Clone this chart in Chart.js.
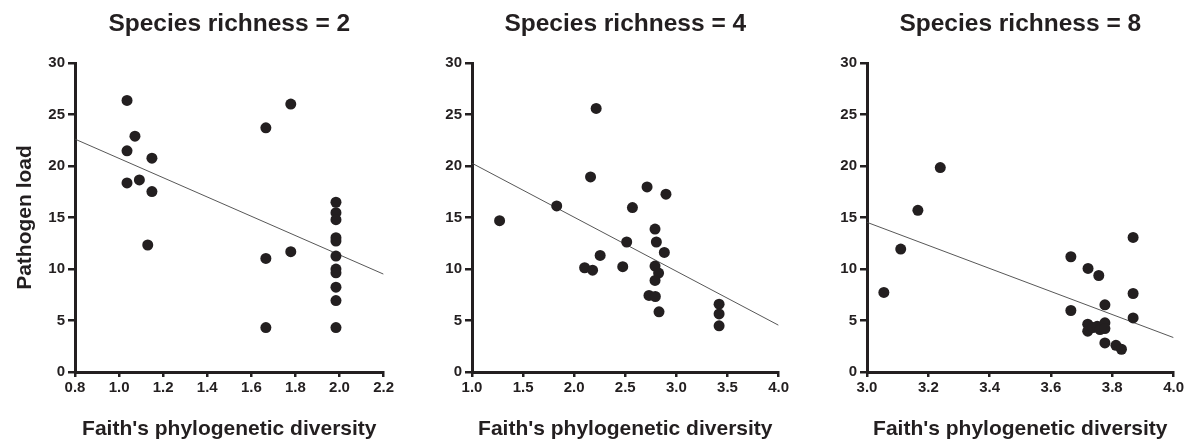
<!DOCTYPE html>
<html>
<head>
<meta charset="utf-8">
<script src="https://cdn.jsdelivr.net/npm/chart.js@4/dist/chart.umd.min.js"></script>
<style>
  html, body { margin: 0; padding: 0; background: #ffffff; }
  body { width: 1186px; height: 439px; position: relative; overflow: hidden; }
  canvas { position: absolute; top: 0; }
</style>
</head>
<body>
<canvas id="c1" width="396" height="439" style="left:0px"></canvas>
<canvas id="c2" width="394" height="439" style="left:397px"></canvas>
<canvas id="c3" width="394" height="439" style="left:792px"></canvas>
<script>
// ---------- data ----------
const panelTitles = ["Species richness = 2", "Species richness = 4", "Species richness = 8"];
const xAxisTitle = "Faith's phylogenetic diversity";
const yAxisTitle = "Pathogen load";
const yTicks = [0, 5, 10, 15, 20, 25, 30];

const xTicks1 = [0.8, 1.0, 1.2, 1.4, 1.6, 1.8, 2.0, 2.2];
const xTicks2 = [1.0, 1.5, 2.0, 2.5, 3.0, 3.5, 4.0];
const xTicks3 = [3.0, 3.2, 3.4, 3.6, 3.8, 4.0];

// Species richness = 2
const pd2 = [1.036, 1.072, 1.036, 1.149, 1.036, 1.092, 1.149, 1.130,
             1.666, 1.779, 1.666, 1.779, 1.666,
             1.984, 1.984, 1.984, 1.984, 1.984, 1.984, 1.984, 1.984, 1.984, 1.984, 1.984];
const load2 = [26.37, 22.9, 21.47, 20.76, 18.36, 18.65, 17.52, 12.33,
               23.71, 26.01, 11.03, 11.68, 4.31,
               16.48, 15.47, 14.79, 13.04, 12.71, 11.26, 9.99, 9.63, 8.24, 6.94, 4.31];
const fit2x = [0.8, 2.2];
const fit2y = [22.61, 9.5];

// Species richness = 4
const pd4 = [1.27, 1.829, 2.215, 2.160, 2.102, 2.180, 2.254, 2.475, 2.514, 2.570,
             2.713, 2.898, 2.791, 2.804, 2.882, 2.791, 2.826, 2.791, 2.732, 2.794,
             2.830, 3.418, 3.418, 3.418];
const load4 = [14.69, 16.12, 25.59, 18.94, 10.12, 9.89, 11.32, 10.22, 12.62, 15.96,
               17.97, 17.26, 13.88, 12.62, 11.61, 10.28, 9.60, 8.89, 7.43, 7.33,
               5.84, 6.58, 5.64, 4.48];
const fit4x = [1.0, 4.0];
const fit4y = [20.27, 4.54];

// Species richness = 8
const pd8 = [3.055, 3.110, 3.166, 3.239, 3.665, 3.665, 3.721, 3.756, 3.776,
             3.868, 3.868, 3.868,
             3.720, 3.720, 3.737, 3.751, 3.760, 3.776, 3.776,
             3.776, 3.812, 3.830];
const load8 = [7.72, 11.94, 15.70, 19.85, 11.19, 5.97, 10.06, 9.37, 6.52,
               13.07, 7.62, 5.25,
               4.64, 3.96, 4.31, 4.44, 4.12, 4.77, 4.22,
               2.82, 2.59, 2.21];
const fit8x = [3.0, 4.0];
const fit8y = [14.53, 3.34];

// ---------- drawing ----------
const INK = '#231f20';
const FONT = "'Liberation Sans', Arial, Helvetica, sans-serif";

function pairs(xs, ys) { return xs.map((x, i) => ({ x: x, y: ys[i] })); }

// panel title centred over the plot area (not the whole canvas)
const panelTitlePlugin = {
  id: 'panelTitle',
  afterDraw(chart, args, opts) {
    const { ctx, chartArea } = chart;
    ctx.save();
    ctx.fillStyle = INK;
    ctx.font = 'bold ' + opts.size + 'px ' + FONT;
    ctx.textAlign = 'center';
    ctx.textBaseline = 'alphabetic';
    ctx.fillText(opts.text, (chartArea.left + chartArea.right) / 2, opts.baseline);
    ctx.restore();
  }
};

function makePanel(id, title, xs, ys, fx, fy, xTicks, showYTitle) {
  const ctx = document.getElementById(id);
  return new Chart(ctx, {
    type: 'scatter',
    data: {
      datasets: [
        {
          data: pairs(xs, ys),
          backgroundColor: INK,
          borderColor: INK,
          borderWidth: 0,
          pointRadius: 5.5,
          pointHoverRadius: 5.5
        },
        {
          data: pairs(fx, fy),
          showLine: true,
          borderColor: '#444444',
          borderWidth: 0.9,
          pointRadius: 0,
          fill: false
        }
      ]
    },
    plugins: [panelTitlePlugin],
    options: {
      responsive: false,
      animation: false,
      devicePixelRatio: 1,
      layout: { padding: { left: 0, right: 12, top: 63, bottom: 0 } },
      plugins: {
        legend: { display: false },
        tooltip: { enabled: false },
        title: { display: false },
        panelTitle: { text: title, size: 24.5, baseline: 31 }
      },
      scales: {
        x: {
          type: 'linear',
          min: xTicks[0],
          max: xTicks[xTicks.length - 1],
          afterBuildTicks: (s) => { s.ticks = xTicks.map(v => ({ value: v })); },
          afterFit: (s) => { s.height = 67; },
          grid: { display: true, drawOnChartArea: false, drawTicks: true, tickLength: 5, color: INK, lineWidth: 2.5 },
          border: { display: true, color: INK, width: 3 },
          ticks: {
            color: INK,
            padding: 2,
            maxRotation: 0,
            autoSkip: false,
            font: { family: FONT, size: 15, weight: 'bold' },
            callback: (v) => Number(v).toFixed(1)
          },
          title: {
            display: true,
            text: xAxisTitle,
            color: INK,
            font: { family: FONT, size: 21, weight: 'bold' },
            padding: { top: 0, bottom: -3 }
          }
        },
        y: {
          type: 'linear',
          min: yTicks[0],
          max: yTicks[yTicks.length - 1],
          afterBuildTicks: (s) => { s.ticks = yTicks.map(v => ({ value: v })); },
          afterFit: (s) => { s.width = 75; },
          grid: { display: true, drawOnChartArea: false, drawTicks: true, tickLength: 7, color: INK, lineWidth: 2.5 },
          border: { display: true, color: INK, width: 3 },
          ticks: {
            color: INK,
            padding: 3,
            font: { family: FONT, size: 15, weight: 'bold' }
          },
          title: {
            display: showYTitle,
            text: yAxisTitle,
            color: INK,
            font: { family: FONT, size: 21, weight: 'bold' },
            padding: { top: 13, bottom: 0 }
          }
        }
      }
    }
  });
}

makePanel('c1', panelTitles[0], pd2, load2, fit2x, fit2y, xTicks1, true);
makePanel('c2', panelTitles[1], pd4, load4, fit4x, fit4y, xTicks2, false);
makePanel('c3', panelTitles[2], pd8, load8, fit8x, fit8y, xTicks3, false);
</script>
</body>
</html>
